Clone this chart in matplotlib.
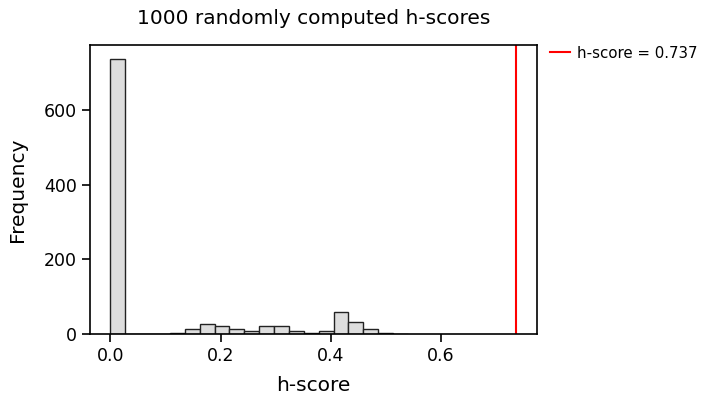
import numpy as np
from matplotlib import pyplot as plt

# histogram of the 1000 random h-scores
binWidth = 0.027
binCounts = [736, 0, 0, 1, 2, 14, 26, 22, 13, 8, 21, 22, 8, 3, 8, 59, 33, 14, 2, 1]
observedScore = 0.737
titleText = "1000 randomly computed h-scores"

binEdges = np.arange(len(binCounts) + 1) * binWidth
binCenters = binEdges[:-1] + binWidth / 2

fig = plt.figure(figsize=(7.1, 4.07), dpi=100)
ax = fig.add_axes([0.127, 0.179, 0.629, 0.71])

ax.hist(binCenters, bins=binEdges, weights=binCounts, color="#dddddd",
        edgecolor="#222222", linewidth=1.0)
ax.axvline(observedScore, color="red", linewidth=1.5,
           label="h-score = " + str(observedScore))

ax.set_title(titleText, fontsize=14.5, pad=15)
ax.set_xlabel("h-score", fontsize=14.5, labelpad=8)
ax.set_ylabel("Frequency", fontsize=14.5, labelpad=12)
ax.set_xticks([0.0, 0.2, 0.4, 0.6])
ax.set_yticks([0, 200, 400, 600])
ax.tick_params(labelsize=12.5, length=6, width=1.2)
for s in ax.spines.values():
    s.set_linewidth(1.2)

ax.legend(loc="upper left", bbox_to_anchor=(1.0, 1.045), frameon=False,
          fontsize=10.8, handlelength=1.3, handletextpad=0.45)

fig.savefig("out.png", dpi=100)
